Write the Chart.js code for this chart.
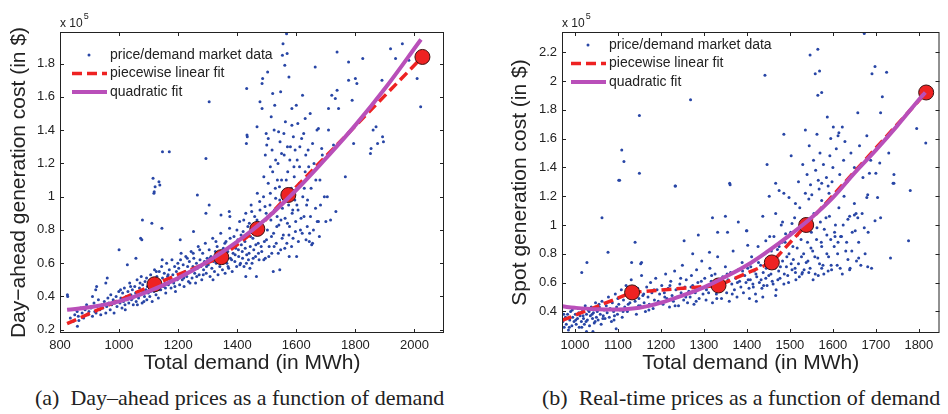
<!DOCTYPE html>
<html>
<head>
<meta charset="utf-8">
<script src="https://cdn.jsdelivr.net/npm/chart.js@4.4.0/dist/chart.umd.min.js"></script>
<style>
  html, body { margin: 0; padding: 0; background: #fff; }
  #wrap { position: relative; width: 948px; height: 414px; overflow: hidden; }
  canvas { position: absolute; top: 0; }
  #dayAhead { left: 0; }
  #spot { left: 474px; }
  .caption { position: absolute; top: 386px; line-height: 24px; font-family: "Liberation Serif", "Times New Roman", serif; font-size: 22px; color: #222; white-space: pre; }
</style>
</head>
<body>
<div id="wrap">
  <canvas id="dayAhead" width="474" height="380"></canvas>
  <canvas id="spot" width="474" height="380"></canvas>
  <div class="caption" style="left:35px">(a)  Day–ahead prices as a function of demand</div>
  <div class="caption" style="left:542px">(b)  Real-time prices as a function of demand</div>
</div>
<script>
// values in units of 10^5 $
const dayAheadTicksX = [800, 1000, 1200, 1400, 1600, 1800, 2000];
const dayAheadTicksY = [0.2, 0.4, 0.6, 0.8, 1, 1.2, 1.4, 1.6, 1.8];
const spotTicksX = [1000, 1100, 1200, 1300, 1400, 1500, 1600, 1700, 1800];
const spotTicksY = [0.4, 0.6, 0.8, 1, 1.2, 1.4, 1.6, 1.8, 2, 2.2];

// piecewise linear fit (breakpoints)
const dayAheadPwX = [824, 1120, 1346, 1468, 1573, 2027];
const dayAheadPwY = [0.236, 0.473, 0.636, 0.806, 1.01, 1.84];
const spotPwX = [970, 1133, 1334, 1458, 1538, 1817];
const spotPwY = [0.337, 0.532, 0.58, 0.74, 1.0, 1.92];

// quadratic fit
const dayAheadQuadX = [824, 900, 1000, 1100, 1200, 1300, 1400, 1500, 1600, 1700, 1800, 1900, 2022];
const dayAheadQuadY = [0.32, 0.335, 0.37, 0.43, 0.51, 0.61, 0.73, 0.87, 1.04, 1.23, 1.43, 1.65, 1.945];
const spotQuadX = [970, 1000, 1050, 1100, 1150, 1200, 1250, 1300, 1350, 1400, 1450, 1500, 1550, 1600, 1650, 1700, 1750, 1800, 1815];
const spotQuadY = [0.435, 0.425, 0.415, 0.413, 0.425, 0.46, 0.51, 0.567, 0.64, 0.72, 0.82, 0.93, 1.05, 1.19, 1.36, 1.52, 1.69, 1.87, 1.92];

// market data (demand MWh, cost x10^5 $)
const dayAheadMarket = [
  [825,.41],[826,.40],[835,.27],[845,.25],[850,.29],[858,.31],[859,.22],[862,.28],[864,.255],[870,.33],[875,.30],[876,.275],[880,.27],[885,.32],[890,.35],[893,.295],[895,.29],[898,.31],
  [905,.33],[910,.40],[910,.28],[915,.36],[918,.31],[921,.44],[922,.30],[924,.46],[925,.34],[930,.38],[935,.32],[938,.29],[942,.35],[945,.33],[950,.37],[955,.30],[955,.48],[958,.34],[960,.51],[962,.39],[965,.36],[970,.32],[972,.41],[975,.35],[980,.38],[983,.30],[986,.36],[990,.40],[993,.34],[996,.37],[999,.43],[1000,.68],
  [1003,.36],[1006,.39],[1010,.33],[1012,.42],[1015,.37],[1018,.45],[1020,.35],[1024,.40],[1027,.38],[1028,.59],[1030,.43],[1033,.36],[1036,.48],[1040,.41],[1042,.38],[1045,.44],[1048,.35],[1050,.40],[1053,.46],[1056,.42],[1057,.63],[1058,.37],[1061,.50],[1064,.43],[1066,.39],[1069,.45],[1072,.41],[1073,.75],[1075,.52],[1077,.74],[1078,.36],[1079,.86],[1080,.47],[1083,.43],[1086,.40],[1088,.49],[1091,.44],[1094,.38],[1096,.46],[1099,.42],
  [1102,.48],[1104,.40],[1107,.53],[1110,.45],[1111,.84],[1112,.37],[1115,.50],[1115,1.11],[1118,.43],[1118,1.02],[1119,1.03],[1120,.56],[1122,1.06],[1123,.46],[1125,.41],[1128,.52],[1131,.47],[1133,.39],[1135,1.09],[1136,.55],[1138,1.07],[1139,.49],[1141,.44],[1144,.58],[1145,.81],[1147,.51],[1147,1.27],[1150,.46],[1153,.54],[1156,.48],[1158,.42],[1161,.60],[1164,.52],[1167,.47],[1170,.56],[1170,1.27],[1173,.50],[1176,.45],[1179,.62],[1182,.53],[1185,.48],[1188,.58],[1191,.43],[1194,.55],[1197,.50],
  [1202,.57],[1205,.47],[1207,.74],[1208,.62],[1211,.53],[1214,.50],[1217,.59],[1220,.46],[1223,.55],[1226,.64],[1229,.52],[1232,.58],[1235,.49],[1238,.61],[1241,.55],[1244,.67],[1247,.51],[1250,.58],[1252,.79],[1253,.63],[1256,.54],[1259,.48],[1262,.60],[1265,.57],[1265,1.01],[1268,.70],[1271,.53],[1274,.62],[1277,.58],[1280,.50],[1283,.66],[1286,.56],[1289,.61],[1292,.72],[1294,.90],[1294,1.23],[1295,.54],[1298,.63],
  [1302,.59],[1305,.68],[1305,.95],[1305,1.57],[1308,.52],[1311,.64],[1314,.57],[1317,.75],[1320,.61],[1323,.55],[1326,.67],[1329,.60],[1332,.70],[1335,.53],[1338,.64],[1341,.58],[1344,.78],[1345,.89],[1347,.62],[1350,.56],[1353,.69],[1356,.65],[1359,.54],[1362,.73],[1365,.60],[1368,.67],[1371,.57],[1373,.91],[1374,.81],[1375,.88],[1377,.63],[1380,.70],[1383,.55],[1386,.66],[1389,.76],[1392,.61],[1395,.69],[1398,.58],
  [1402,.74],[1405,.64],[1408,.85],[1411,.60],[1414,.71],[1417,.67],[1420,.79],[1423,.58],[1426,.73],[1429,.90],[1429,.52],[1431,1.32],[1432,.65],[1432,1.65],[1433,1.37],[1434,1.36],[1435,.77],[1438,.62],[1441,.84],[1443,.57],[1444,.70],[1447,.95],[1450,.60],[1453,.75],[1456,.68],[1459,.88],[1462,.64],[1465,.80],[1465,.52],[1467,1.42],[1468,1.02],[1471,.72],[1474,.62],[1477,.92],[1477,1.57],[1480,.78],[1483,.67],[1484,1.53],[1484,1.68],[1486,.85],[1486,1.71],[1489,1.00],[1492,.73],[1495,.63],[1498,.90],
  [1500,1.31],[1502,.80],[1505,1.08],[1508,.70],[1511,.95],[1514,.86],[1517,.66],[1520,1.15],[1522,.55],[1523,.78],[1526,.92],[1529,1.05],[1532,.72],[1535,.88],[1538,1.20],[1540,1.39],[1541,.83],[1544,.98],[1544,.56],[1547,.68],[1550,1.10],[1553,.93],[1553,1.85],[1555,1.92],[1556,.77],[1559,1.25],[1561,1.79],[1562,.87],[1565,1.02],[1567,1.98],[1568,.72],[1569,1.86],[1571,1.15],[1574,.95],[1576,.64],[1577,.82],[1580,1.30],[1583,1.05],[1585,1.43],[1585,1.53],[1586,.90],[1589,.75],[1592,1.18],[1595,.98],[1598,.85],
  [1601,.64],[1603,1.22],[1606,.92],[1610,1.08],[1614,.80],[1618,1.35],[1621,1.61],[1622,1.00],[1626,.88],[1630,1.15],[1630,1.47],[1635,.95],[1637,.82],[1640,1.28],[1644,.73],[1645,.78],[1647,1.50],[1650,1.05],[1652,.71],[1655,.72],[1660,1.20],[1664,1.78],[1665,.93],[1670,1.40],[1671,.85],[1675,.85],[1675,1.41],[1680,1.10],[1682,.95],[1686,1.29],[1688,1.25],[1695,1.00],[1700,.85],[1705,1.00],[1709,1.40],[1709,1.53],[1716,.86],[1720,1.61],[1726,1.31],[1732,1.59],[1734,.91],[1738,1.64],[1738,1.87],[1743,1.53],[1766,1.12],[1777,1.70],[1777,1.81],[1789,1.58],[1794,1.32],[1800,1.71],[1805,1.68],[1825,1.83],[1851,1.26],[1853,1.29],[1860,1.40],[1870,1.42],[1875,1.32],[1890,1.70],[1892,1.36],[1895,1.33],[1919,1.89],[1936,1.83],[1959,1.92],[1981,1.82],[2009,1.71],[2021,1.54],
  [1490,1.12],[1495,1.25],[1505,1.35],[1512,1.18],[1518,1.28],[1525,1.40],[1530,1.22],[1536,1.10],[1545,1.33],[1550,1.26],[1558,1.38],[1563,1.45],[1570,1.30],[1578,1.22],[1590,1.36],[1596,1.28],[1605,1.44],[1612,1.30],[1625,1.38],[1632,1.25],[1642,1.18],[1655,1.32],[1498,1.38],[1515,1.48],[1527,1.55],[1547,1.63],[1600,1.55],[1575,1.72],[1520,1.62],[1503,1.75],
  [1352,.60],[1358,.72],[1363,.66],[1369,.58],[1376,.75],[1381,.62],[1387,.71],[1393,.65],[1399,.80],[1404,.68],[1409,.59],[1413,.77],[1418,.63],[1422,.86],[1427,.69],[1431,.60],[1436,.82],[1440,.66],[1445,.76],[1449,.91],[1454,.63],[1458,.79],[1463,.71],[1467,.86],[1472,.66],[1476,.97],[1481,.70],[1485,.81],[1490,.62],[1494,.94],[1499,.74],[1503,.88],[1507,.64],[1512,1.02],[1516,.76],[1521,.90],[1525,.70],[1530,.99],[1534,.82],[1539,.66],[1543,1.06],[1548,.86],[1552,.75],[1557,.97],[1561,.69],[1566,1.10],[1570,.84],[1575,.77],[1579,1.00],[1584,.70],[1588,.92],[1593,1.12],[1597,.79],[1602,.95],[1607,.73],[1611,1.18],[1616,.87],[1620,.78],[1627,1.05],[1633,.74],[1638,.98],[1648,.88],[1658,.80],[1666,1.10],[1678,.76],
  [1005,.44],[1021,.32],[1039,.46],[1047,.39],[1062,.35],[1071,.48],[1084,.37],[1093,.51],[1106,.43],[1117,.47],[1126,.55],[1135,.44],[1146,.62],[1157,.45],[1166,.53],[1178,.49],[1189,.46],[1199,.60],[1210,.66],[1219,.51],[1231,.63],[1240,.48],[1251,.66],[1263,.52],[1273,.68],[1285,.53],[1296,.58],[1307,.63],[1318,.50],[1328,.73],[1340,.61],[1349,.66]
];

const spotMarket = [
  [972,.33],[975,.29],[978,.36],[980,.31],[983,.38],[985,.27],[988,.34],[990,.40],[993,.30],[995,.36],[998,.33],
  [1001,.38],[1003,.31],[1006,.35],[1008,.42],[1010,.29],[1012,.37],[1015,.33],[1016,.29],[1016,.67],[1017,.40],[1020,.35],[1022,.31],[1024,.44],[1027,.38],[1027,.26],[1028,.74],[1029,.34],[1031,.41],[1034,.30],[1036,.37],[1038,.43],[1041,.35],[1042,.26],[1043,.39],[1045,.32],[1048,.46],[1050,.36],
  [1052,.40],[1054,.34],[1057,.43],[1059,.38],[1061,.31],[1063,.47],[1063,1.05],[1066,.37],[1068,.41],[1070,.35],[1073,.44],[1075,.39],[1077,.81],[1078,.50],[1080,.36],[1082,.42],[1085,.33],[1087,.46],[1090,.40],[1092,.37],[1094,.52],[1096,.28],[1097,.43],[1099,.38],
  [1102,.45],[1102,1.31],[1104,1.31],[1105,.41],[1108,.55],[1109,1.52],[1110,.36],[1113,.48],[1114,1.44],[1116,.43],[1119,.58],[1122,.40],[1125,.50],[1128,.46],[1131,.62],[1132,.74],[1134,.42],[1137,.52],[1140,.47],[1140,.88],[1143,.38],[1146,.56],[1149,.49],[1150,1.36],[1150,1.76],[1152,.44],[1153,.73],[1155,.65],[1155,.74],[1158,.51],[1161,.46],[1164,.40],[1167,.57],[1170,.50],[1173,.45],[1176,.60],[1179,.53],[1182,.42],[1185,.48],[1188,.63],[1191,.55],[1194,.47],[1197,.52],
  [1202,.58],[1205,.45],[1208,.53],[1211,.66],[1214,.49],[1217,.56],[1220,.43],[1223,.61],[1226,.51],[1229,.47],[1232,.68],[1233,1.27],[1234,1.27],[1235,.55],[1238,.50],[1241,.44],[1244,.59],[1247,.53],[1250,.72],[1253,.48],[1254,.89],[1256,.57],[1259,.62],[1262,.46],[1265,.54],[1268,.50],[1269,1.87],[1271,.65],[1274,.58],[1274,.80],[1277,.45],[1280,.53],[1283,.69],[1286,.60],[1287,.93],[1289,.49],[1292,.56],[1295,.75],[1298,.52],
  [1302,.63],[1305,.48],[1308,.57],[1311,.53],[1313,.81],[1314,.70],[1317,.61],[1320,.46],[1320,1.05],[1323,.58],[1326,.66],[1329,.52],[1332,.78],[1332,.95],[1335,.60],[1338,.55],[1341,.49],[1344,.64],[1347,.58],[1350,.71],[1350,1.06],[1353,.53],[1355,.95],[1356,.62],[1359,.47],[1360,1.29],[1361,1.28],[1362,.67],[1365,.59],[1368,.82],[1371,.55],[1374,.63],[1377,.50],[1380,.69],[1380,1.02],[1383,.61],[1386,.57],[1389,.74],[1392,.53],[1395,.65],[1398,.60],
  [1399,.96],[1400,.96],[1402,.70],[1402,.86],[1405,.56],[1406,.49],[1408,.62],[1411,.78],[1414,.59],[1417,.68],[1420,.52],[1422,.47],[1423,.64],[1426,.85],[1429,.60],[1432,.72],[1435,.56],[1437,.50],[1437,1.06],[1438,.67],[1441,.80],[1442,2.04],[1444,.63],[1444,.89],[1447,.58],[1447,1.42],[1450,.74],[1452,1.20],[1453,.92],[1456,.66],[1459,.61],[1462,.77],[1463,.92],[1465,.70],[1467,.51],[1467,1.08],[1467,1.29],[1468,.55],[1471,.83],[1474,.68],[1475,1.24],[1475,.85],[1477,.63],[1480,1.00],[1483,.75],[1483,1.02],[1486,.59],[1486,1.22],[1486,1.63],[1489,.88],[1490,.94],[1492,.71],[1495,.65],[1498,.80],[1498,1.19],
  [1502,.95],[1503,1.48],[1505,.69],[1505,1.01],[1508,.76],[1511,1.05],[1513,1.15],[1513,.67],[1514,.62],[1517,.84],[1520,.73],[1523,1.12],[1526,.90],[1528,.66],[1529,.67],[1532,.80],[1535,1.00],[1536,1.22],[1536,1.66],[1538,.74],[1541,.88],[1544,1.18],[1544,.67],[1547,.70],[1547,2.18],[1550,.95],[1551,1.21],[1553,.82],[1556,1.08],[1559,.66],[1559,2.05],[1562,.90],[1563,1.63],[1565,.77],[1565,1.90],[1565,2.22],[1566,.65],[1566,1.31],[1568,1.25],[1569,2.07],[1571,1.02],[1574,.85],[1574,1.17],[1574,1.29],[1574,1.92],[1574,.70],[1577,.72],[1580,.97],[1583,1.15],[1586,.80],[1586,.93],[1587,1.75],[1589,.68],[1589,1.27],[1591,1.22],[1592,1.06],[1595,.90],[1597,.69],[1598,1.30],
  [1601,1.68],[1603,.85],[1605,.92],[1606,1.00],[1610,.72],[1612,1.62],[1612,.88],[1614,1.12],[1614,1.64],[1618,.92],[1620,.92],[1622,.66],[1622,1.68],[1626,1.20],[1630,.82],[1635,1.04],[1635,.76],[1639,1.06],[1639,.69],[1640,.70],[1645,.95],[1650,1.15],[1650,1.07],[1654,1.08],[1655,.75],[1658,1.05],[1658,1.78],[1660,.88],[1660,.77],[1668,1.08],[1673,.98],[1673,2.33],[1675,.80],[1679,1.19],[1679,1.62],[1681,1.21],[1681,.71],[1682,.95],[1685,1.36],[1690,.70],[1691,2.05],[1698,1.03],[1698,2.10],[1700,1.36],[1704,1.19],[1709,1.43],[1711,1.05],[1711,1.78],[1715,1.89],[1725,2.06],[1730,1.50],[1734,.77],[1740,1.29],[1742,1.35],[1742,1.29],[1776,.89],[1780,1.24],[1795,1.67],[1816,1.57],
  [1520,1.30],[1530,1.42],[1540,1.35],[1548,1.28],[1555,1.45],[1560,1.38],[1570,1.50],[1578,1.42],[1585,1.33],[1593,1.48],[1600,1.40],[1608,1.53],[1616,1.35],[1625,1.45],[1633,1.30],[1642,1.50],[1650,1.40],[1662,1.55],[1670,1.33],[1688,1.45],[1545,1.55],[1595,1.60],[1628,1.58],
  [974,.38],[981,.35],[987,.29],[994,.41],[1002,.34],[1009,.39],[1019,.37],[1026,.33],[1033,.40],[1040,.38],[1047,.33],[1056,.45],[1065,.35],[1074,.41],[1083,.47],[1091,.34],[1100,.49],[1112,.40],[1124,.45],[1136,.57],[1148,.44],[1160,.52],[1172,.41],[1184,.55],[1196,.46],[1209,.50],[1221,.58],[1233,.44],[1246,.63],[1258,.50],[1270,.57],[1282,.47],[1294,.61],[1306,.55],[1318,.65],[1330,.49],[1342,.58],[1354,.66],[1366,.52],[1378,.60],[1390,.68],
  [1403,.62],[1409,.71],[1415,.57],[1421,.66],[1427,.74],[1433,.62],[1439,.58],[1445,.70],[1451,.65],[1457,.82],[1461,.59],[1466,.76],[1472,.62],[1478,.71],[1482,.88],[1487,.66],[1493,.78],[1497,.60],[1503,.73],[1507,.85],[1512,.70],[1518,.93],[1522,.64],[1527,.78],[1533,.69],[1537,.96],[1542,.75],[1549,.84],[1554,.62],[1558,.78],[1563,.98],[1569,.73],[1573,.88],[1579,.66],[1584,1.05],[1590,.78],[1596,.72],[1604,.95],[1611,.80],[1617,.70],[1624,1.00],[1632,.88],[1644,.82],[1652,.96],[1665,.72]
];

const FONT = '"Liberation Sans", Arial, sans-serif';
const INK = '#222';

function toXY(xs, ys) {
  return xs.map((x, i) => ({ x: x, y: ys[i] }));
}

// box, inward ticks, "x 10^5" and the legend inside the axes, matlab style
const matlabBox = {
  id: 'matlabBox',
  afterDatasetsDraw(chart, args, opts) {
    const { ctx, chartArea: a, scales: { x, y } } = chart;
    ctx.save();
    ctx.strokeStyle = INK;
    ctx.lineWidth = 1;
    ctx.strokeRect(a.left + 0.5, a.top + 0.5, a.width - 1, a.height - 1);
    ctx.beginPath();
    x.ticks.forEach(t => {
      const px = Math.round(x.getPixelForValue(t.value)) + 0.5;
      ctx.moveTo(px, a.bottom); ctx.lineTo(px, a.bottom - 4);
      ctx.moveTo(px, a.top); ctx.lineTo(px, a.top + 4);
    });
    y.ticks.forEach(t => {
      const py = Math.round(y.getPixelForValue(t.value)) + 0.5;
      ctx.moveTo(a.left, py); ctx.lineTo(a.left + 4, py);
      ctx.moveTo(a.right, py); ctx.lineTo(a.right - 4, py);
    });
    ctx.stroke();

    ctx.fillStyle = INK;
    ctx.font = '12px ' + FONT;
    ctx.textBaseline = 'alphabetic';
    ctx.fillText('x 10', a.left, a.top - 5);
    const w = ctx.measureText('x 10').width;
    ctx.font = '9px ' + FONT;
    ctx.fillText('5', a.left + w + 1, a.top - 13);

    // legend
    const lg = opts.legend;
    ctx.font = '14px ' + FONT;
    ctx.textBaseline = 'middle';
    lg.order.forEach((idx, row) => {
      const ds = chart.data.datasets[idx];
      const x0 = a.left + lg.x;
      const yy = a.top + lg.y + row * lg.gap;
      if (ds.showLine) {
        ctx.save();
        ctx.strokeStyle = ds.borderColor;
        ctx.lineWidth = ds.borderWidth;
        ctx.setLineDash(ds.borderDash || []);
        ctx.beginPath();
        ctx.moveTo(x0, yy); ctx.lineTo(x0 + 35, yy);
        ctx.stroke();
        ctx.restore();
      } else {
        ctx.fillStyle = ds.pointBackgroundColor;
        ctx.beginPath();
        ctx.arc(x0 + 17, yy, ds.pointRadius, 0, Math.PI * 2);
        ctx.fill();
      }
      ctx.fillStyle = INK;
      ctx.fillText(ds.label, x0 + 38, yy);
    });
    ctx.restore();
  }
};

function buildChart(id, o) {
  return new Chart(document.getElementById(id), {
    type: 'scatter',
    data: {
      datasets: [
        {
          label: 'quadratic fit',
          data: toXY(o.quadX, o.quadY),
          showLine: true,
          borderColor: '#b94fb9',
          borderWidth: 4,
          pointRadius: 0,
          tension: 0.4
        },
        {
          label: 'piecewise linear fit',
          data: toXY(o.pwX, o.pwY),
          showLine: true,
          borderColor: '#ee2222',
          borderWidth: 3.5,
          borderDash: [10, 5],
          pointRadius: o.pwX.map((v, i) => (i === 0 ? 0 : 7.5)),
          pointBackgroundColor: '#ee2222',
          pointBorderColor: '#3b1111',
          pointBorderWidth: 1
        },
        {
          label: 'price/demand market data',
          data: o.points.map(p => ({ x: p[0], y: p[1] })),
          pointRadius: 1.5,
          pointBackgroundColor: '#2846a6',
          pointBorderWidth: 0
        }
      ]
    },
    options: {
      responsive: false,
      animation: false,
      devicePixelRatio: 1,
      layout: { padding: { top: 32, right: o.padRight, left: 0, bottom: 0 } },
      plugins: {
        legend: { display: false },
        tooltip: { enabled: false },
        matlabBox: { legend: o.legend }
      },
      scales: {
        x: {
          type: 'linear',
          min: o.xMin,
          max: o.xMax,
          afterBuildTicks: axis => { axis.ticks = o.ticksX.map(v => ({ value: v })); },
          afterFit: axis => { axis.height = 47; },
          grid: { display: false, drawTicks: false },
          border: { display: false },
          ticks: { autoSkip: false, maxRotation: 0, padding: 5, color: INK, font: { family: FONT, size: 13 }, callback: v => String(v) },
          title: { display: true, text: 'Total demand (in MWh)', color: INK, font: { family: FONT, size: 21 }, padding: { top: 0, bottom: 4 } }
        },
        y: {
          type: 'linear',
          min: o.yMin,
          max: o.yMax,
          afterBuildTicks: axis => { axis.ticks = o.ticksY.map(v => ({ value: v })); },
          afterFit: axis => { axis.width = o.yAxisWidth; },
          grid: { display: false, drawTicks: false },
          border: { display: false },
          ticks: { autoSkip: false, padding: 5, color: INK, font: { family: FONT, size: 13 }, callback: v => String(Math.round(v * 10) / 10) },
          title: { display: true, text: o.yTitle, color: INK, font: { family: FONT, size: 21 }, padding: { top: o.yTitlePad, bottom: 0 } }
        }
      }
    },
    plugins: [matlabBox]
  });
}

buildChart('dayAhead', {
  points: dayAheadMarket,
  pwX: dayAheadPwX, pwY: dayAheadPwY,
  quadX: dayAheadQuadX, quadY: dayAheadQuadY,
  ticksX: dayAheadTicksX, ticksY: dayAheadTicksY,
  xMin: 800, xMax: 2100, yMin: 0.18, yMax: 1.99,
  yAxisWidth: 60, padRight: 30, yTitlePad: 7,
  yTitle: 'Day\u2212ahead generation cost (in $)',
  legend: { x: 12, y: 23, gap: 18.5, order: [2, 1, 0] }
});

buildChart('spot', {
  points: spotMarket,
  pwX: spotPwX, pwY: spotPwY,
  quadX: spotQuadX, quadY: spotQuadY,
  ticksX: spotTicksX, ticksY: spotTicksY,
  xMin: 970, xMax: 1848, yMin: 0.25, yMax: 2.34,
  yAxisWidth: 88, padRight: 2, yTitlePad: 34,
  yTitle: 'Spot generation cost (in $)',
  legend: { x: 9, y: 13, gap: 18.5, order: [2, 1, 0] }
});
</script>
</body>
</html>
